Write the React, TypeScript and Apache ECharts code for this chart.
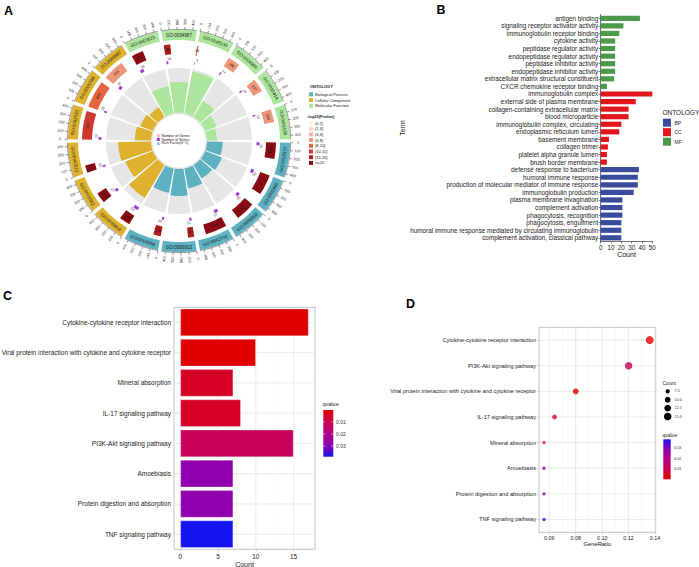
import React, { useEffect, useRef } from 'react';
import * as echarts from 'echarts';

const FONT = '"Liberation Sans", Arial, Helvetica, sans-serif';

// ---------------- Panel A (GO circle) ----------------
const goIds = ['GO:0003823', 'GO:0034987', 'GO:0045236', 'GO:0004866', 'GO:0030414', 'GO:0061135',
  'GO:0002377', 'GO:0002440', 'GO:0006959', 'GO:0042742', 'GO:0006910', 'GO:0006958',
  'GO:0019814', 'GO:0072562', 'GO:0042571', 'GO:0062023', 'GO:0005788', 'GO:0009897'];
const goOntology = ['MF', 'MF', 'MF', 'MF', 'MF', 'MF', 'BP', 'BP', 'BP', 'BP', 'BP', 'BP', 'CC', 'CC', 'CC', 'CC', 'CC', 'CC'];
const goGenes = [177, 98, 18, 186, 197, 194, 243, 303, 287, 320, 93, 110, 160, 158, 112, 425, 405, 315];
const goSelected = [38, 18, 6, 14, 14, 14, 32, 36, 36, 37, 21, 20, 50, 27, 20, 27, 18, 34];
const goPvalBin = [7, 6, 4, 3, 3, 3, 7, 7, 7, 7, 6, 6, 7, 7, 7, 5, 4, 3];
const goRichFactor = [0.62, 0.69, 0.95, 0.42, 0.27, 0.22, 0.35, 0.4, 0.35, 0.45, 0.6, 0.55, 0.85, 0.65, 0.73, 0.36, 0.3, 0.25];
const pvalBins = ['(0,2]', '(2,4]', '(4,6]', '(6,8]', '(8,10]', '(10,15]', '(15,20]', '>=20'];
const pvalColors = ['#FBEFEA', '#F8D9CC', '#F4B79D', '#EE9679', '#E4663F', '#CF3A2E', '#B01B1E', '#8A0B13'];
const ontologyNamesA = ['Biological Process', 'Cellular Component', 'Molecular Function'];
const ontologyKeysA = ['BP', 'CC', 'MF'];
const ontologyColorsA: Record<string, string> = { BP: '#5DB1C0', CC: '#DEB22E', MF: '#ABE69C' };
const geneTicks = [0, 100, 200, 300, 400];
const GENE_MAX = 450;
const SEL_MAX = 250;
const centerLegend = ['Number of Genes', 'Number of Select', 'Rich Factor(0~1)'];

// ---------------- Panel B ----------------
const termsMF = ['antigen binding', 'signaling receptor activator activity', 'immunoglobulin receptor binding',
  'cytokine activity', 'peptidase regulator activity', 'endopeptidase regulator activity',
  'peptidase inhibitor activity', 'endopeptidase inhibitor activity',
  'extracellular matrix structural constituent', 'CXCR chemokine receptor binding'];
const countsMF = [38, 22, 18, 14, 14, 14, 14, 14, 13, 6];
const termsCC = ['immunoglobulin complex', 'external side of plasma membrane', 'collagen-containing extracellular matrix',
  'blood microparticle', 'immunoglobulin complex, circulating', 'endoplasmic reticulum lumen',
  'basement membrane', 'collagen trimer', 'platelet alpha granule lumen', 'brush border membrane'];
const countsCC = [50, 34, 27, 27, 20, 18, 8, 7, 6, 6];
const termsBP = ['defense response to bacterium', 'humoral immune response',
  'production of molecular mediator of immune response', 'immunoglobulin production',
  'plasma membrane invagination', 'complement activation', 'phagocytosis, recognition',
  'phagocytosis, engulfment', 'humoral immune response mediated by circulating immunoglobulin',
  'complement activation, classical pathway'];
const countsBP = [37, 36, 36, 32, 21, 21, 21, 20, 20, 20];
const ontologyB = ['BP', 'CC', 'MF'];
const ontologyColorsB = ['#3B4B9B', '#E2161B', '#4D9A4B'];
const countTicksB = [0, 10, 20, 30, 40, 50];

// ---------------- Panel C ----------------
const termsC = ['Cytokine-cytokine receptor interaction', 'Viral protein interaction with cytokine and cytokine receptor',
  'Mineral absorption', 'IL-17 signaling pathway', 'PI3K-Akt signaling pathway', 'Amoebiasis',
  'Protein digestion and absorption', 'TNF signaling pathway'];
const countsC = [17, 10, 7, 8, 15, 7, 7, 7];
const qvalC = [0.0004, 0.0006, 0.005, 0.005, 0.012, 0.029, 0.029, 0.0387];
const ticksC = [0, 5, 10, 15];
const minorTicksC = [2.5, 7.5, 12.5, 17.5];

// ---------------- Panel D ----------------
const termsD = ['Cytokine-cytokine receptor interaction', 'PI3K-Akt signaling pathway',
  'Viral protein interaction with cytokine and cytokine receptor', 'IL-17 signaling pathway',
  'Mineral absorption', 'Amoebiasis', 'Protein digestion and absorption', 'TNF signaling pathway'];
const geneRatioD = [0.136, 0.12, 0.08, 0.064, 0.056, 0.056, 0.056, 0.056];
const countsD = [17, 15, 10, 8, 7, 7, 7, 7];
const qvalD = [0.0004, 0.012, 0.0006, 0.005, 0.005, 0.029, 0.029, 0.0387];
const ticksD = [0.06, 0.08, 0.10, 0.12, 0.14];
const minorTicksD = [0.07, 0.09, 0.11, 0.13];
const sizeLegendD = [7.5, 10.0, 12.5, 15.0];
const qTicks = [0.01, 0.02, 0.03];

const Q_MIN = 0.0004;
const Q_MAX = 0.0387;
const Q_COLORS = ['#E00000', '#CC004E', '#B40083', '#9000B0', '#1414F0'];

const sizeOf = (count: number) => 3.3 + 4.7 * Math.sqrt(Math.max(0, (count - 7) / 10));

function renderA(params: any, api: any) {
  const i = api.value(0);
  const genes = api.value(1);
  const sel = api.value(2);
  const rf = api.value(3);
  const bin = api.value(4);
  const cs = params.coordSys;
  const cx = cs.cx;
  const cy = cs.cy;
  const P = (r: number, a: number) => api.coord([r, a]);
  const arc = (r: number, s: number, e: number) => {
    const n = Math.max(2, Math.ceil(Math.abs(e - s) * 18));
    const pts: number[][] = [];
    for (let k = 0; k <= n; k++) pts.push(P(r, s + ((e - s) * k) / n));
    return pts;
  };
  const band = (r0: number, r1: number, s: number, e: number, fill: string) => ({
    type: 'polygon',
    shape: { points: [...arc(r1, s, e), ...arc(r0, e, s)] },
    style: { fill },
  });
  const tang = (txt: string, r: number, a: number, size: number, fill = '#222') => {
    const p = P(r, a);
    const th = Math.atan2(p[1] - cy, p[0] - cx);
    let rot = -(th + Math.PI / 2);
    if (Math.sin(th) > 0.01) rot += Math.PI;
    return {
      type: 'text', x: p[0], y: p[1], rotation: rot,
      style: { text: txt, fontSize: size, fontFamily: FONT, fill, align: 'center', verticalAlign: 'middle' },
    };
  };
  const radial = (txt: string, r: number, a: number, size: number) => {
    const p = P(r, a);
    const th = Math.atan2(p[1] - cy, p[0] - cx);
    let rot = -th;
    if (Math.cos(th) < -0.01) rot += Math.PI;
    return {
      type: 'text', x: p[0], y: p[1], rotation: rot,
      style: { text: txt, fontSize: size, fontFamily: FONT, fill: '#333', align: 'center', verticalAlign: 'middle' },
    };
  };
  const g = 0.045;
  const a0 = i + g;
  const a1 = i + 1 - g;
  const span = a1 - a0;
  const col = ontologyColorsA[goOntology[i]];
  const children: any[] = [];
  // inner track: background + rich factor
  children.push(band(26.5, 28, i, i + 1, '#E4E4E4'));
  children.push(band(28, 73, a0, a1, '#E6E6E6'));
  children.push(band(28, 28 + rf * 45, a0, a1, col));
  // number of genes
  const ge = a0 + (span * genes) / GENE_MAX;
  children.push(band(87, 97, a0, ge, pvalColors[bin]));
  children.push(tang(String(genes), 92, (a0 + ge) / 2, 3.8, '#1a1a1a'));
  // number of selected
  const se = a0 + (span * sel) / SEL_MAX;
  children.push(band(77.5, 80.5, a0, se, '#A23CD6'));
  children.push(tang(String(sel), 82.5, (a0 + se) / 2 + 0.08, 3.5, '#333'));
  // outer ring with GO id
  children.push(band(101, 111, a0, a1, col));
  children.push(tang(goIds[i], 106, (a0 + a1) / 2, 4.5, '#1a1a1a'));
  // axis arc + ticks
  children.push({ type: 'polyline', shape: { points: arc(111.6, a0, a1) }, style: { stroke: '#333', lineWidth: 0.5, fill: 'none' } });
  geneTicks.forEach((v) => {
    const a = a0 + (span * v) / GENE_MAX;
    const p1 = P(111.6, a);
    const p2 = P(114.4, a);
    children.push({ type: 'line', shape: { x1: p1[0], y1: p1[1], x2: p2[0], y2: p2[1] }, style: { stroke: '#333', lineWidth: 0.5 } });
    children.push(radial(String(v), 119, a, 3.7));
  });
  return { type: 'group', children };
}

function gridRender(params: any, api: any) {
  const cs = params.coordSys;
  const kind = api.value(2);
  if (kind === 2) {
    const y = api.coord([api.value(0), api.value(1)])[1];
    return { type: 'line', shape: { x1: cs.x, y1: y, x2: cs.x + cs.width, y2: y }, style: { stroke: '#E3E3E3', lineWidth: 0.7 } };
  }
  const x = api.coord([api.value(0), api.value(1)])[0];
  return {
    type: 'line',
    shape: { x1: x, y1: cs.y, x2: x, y2: cs.y + cs.height },
    style: { stroke: kind === 0 ? '#E3E3E3' : '#EFEFEF', lineWidth: kind === 0 ? 0.7 : 0.45 },
  };
}

function txt(text: string, x: number, y: number, size: number, extra: any = {}) {
  return {
    type: 'text', x, y, silent: true,
    style: {
      text, fontSize: size, fontFamily: FONT, fill: extra.fill || '#222', fontWeight: extra.weight || 'normal',
      align: extra.align || 'left', textAlign: extra.align || 'left',
      verticalAlign: extra.va || 'middle', textVerticalAlign: extra.va || 'middle',
    },
  };
}

function buildOption() {
  const termsB = [...termsMF, ...termsCC, ...termsBP];
  const groups: Record<string, { terms: string[]; counts: number[] }> = {
    BP: { terms: termsBP, counts: countsBP },
    CC: { terms: termsCC, counts: countsCC },
    MF: { terms: termsMF, counts: countsMF },
  };
  const seriesB = ontologyB.map((ont, k) => ({
    name: ont,
    type: 'bar',
    xAxisIndex: 0,
    yAxisIndex: 0,
    stack: 'b',
    barWidth: 5.2,
    itemStyle: { color: ontologyColorsB[k] },
    data: termsB.map((t) => {
      const idx = groups[ont].terms.indexOf(t);
      return idx >= 0 ? groups[ont].counts[idx] : '-';
    }),
  }));

  const gridDataC: any[] = [];
  ticksC.forEach((v) => gridDataC.push([v, 0, 0]));
  minorTicksC.forEach((v) => gridDataC.push([v, 0, 1]));
  termsC.forEach((_, k) => gridDataC.push([0, k, 2]));
  const gridDataD: any[] = [];
  ticksD.forEach((v) => gridDataD.push([v, 0, 0]));
  minorTicksD.forEach((v) => gridDataD.push([v, 0, 1]));
  termsD.forEach((_, k) => gridDataD.push([0.1, k, 2]));

  const gradStops = Q_COLORS.map((c, k) => ({ offset: k / (Q_COLORS.length - 1), color: c }));
  const els: any[] = [];
  // panel letters
  els.push(txt('A', 4, 4, 12.5, { weight: 'bold', va: 'top', fill: '#000' }));
  els.push(txt('B', 436.5, 3.5, 12.5, { weight: 'bold', va: 'top', fill: '#000' }));
  els.push(txt('C', 3, 289.5, 12.5, { weight: 'bold', va: 'top', fill: '#000' }));
  els.push(txt('D', 406, 297.5, 12.5, { weight: 'bold', va: 'top', fill: '#000' }));

  // Panel A right legend
  els.push(txt('ONTOLOGY', 310, 86.5, 4, { weight: 'bold' }));
  ontologyKeysA.forEach((k, j) => {
    const y = 94.3 + j * 5.8;
    els.push({ type: 'rect', shape: { x: 309, y: y - 2, width: 4, height: 4 }, style: { fill: ontologyColorsA[k] } });
    els.push(txt(ontologyNamesA[j], 315, y, 4));
  });
  els.push(txt('-log10(Pvalue)', 307, 116, 4, { weight: 'bold' }));
  pvalBins.forEach((b, j) => {
    const y = 123 + j * 5.7;
    els.push({ type: 'rect', shape: { x: 309, y: y - 2, width: 4, height: 4 }, style: { fill: pvalColors[j] } });
    els.push(txt(b, 315, y, 4));
  });
  // Panel A center legend
  const cIcons = ['#F4B8C8', '#A23CD6', '#5DB1C0'];
  centerLegend.forEach((l, j) => {
    const y = 135.7 + j * 3.8;
    if (j < 2) {
      els.push({ type: 'rect', shape: { x: 156.8, y: y - 1.5, width: 3, height: 3 }, style: { fill: cIcons[j] } });
    } else {
      els.push({ type: 'polygon', shape: { points: [[158.3, y - 1.6], [159.9, y + 1.4], [156.7, y + 1.4]] }, style: { fill: cIcons[j] } });
    }
    els.push(txt(l, 161.5, y, 3.6));
  });

  // Panel B legend
  els.push(txt('ONTOLOGY', 662.5, 112.7, 6.5));
  ontologyB.forEach((o, j) => {
    const y = 122.7 + j * 9.5;
    els.push({ type: 'rect', shape: { x: 663, y: y - 4, width: 8, height: 8 }, style: { fill: ontologyColorsB[j] } });
    els.push(txt(o, 674.5, y, 5));
  });

  // Panel C legend
  els.push(txt('qvalue', 322.5, 404, 5.5));
  els.push({ type: 'rect', shape: { x: 323.3, y: 410, width: 10, height: 46.7 }, style: { fill: new echarts.graphic.LinearGradient(0, 0, 0, 1, gradStops) } });
  qTicks.forEach((q) => {
    const y = 410 + ((q - Q_MIN) / (Q_MAX - Q_MIN)) * 46.7;
    els.push({ type: 'line', shape: { x1: 323.3, y1: y, x2: 325.3, y2: y }, style: { stroke: '#fff', lineWidth: 0.5 } });
    els.push({ type: 'line', shape: { x1: 331.3, y1: y, x2: 333.3, y2: y }, style: { stroke: '#fff', lineWidth: 0.5 } });
    els.push(txt(q.toFixed(2), 336, y, 5, { fill: '#333' }));
  });

  // Panel D legend
  els.push(txt('Count', 662.5, 382.7, 5));
  sizeLegendD.forEach((c, j) => {
    const y = 391.3 + j * 8.4;
    els.push({ type: 'circle', shape: { cx: 667.7, cy: y, r: sizeOf(c) / 2 }, style: { fill: '#000' } });
    els.push(txt(c.toFixed(1), 674.5, y, 3.8, { fill: '#333' }));
  });
  els.push(txt('qvalue', 662.5, 435, 5));
  els.push({ type: 'rect', shape: { x: 663.3, y: 439.3, width: 7.4, height: 40 }, style: { fill: new echarts.graphic.LinearGradient(0, 1, 0, 0, gradStops) } });
  qTicks.forEach((q) => {
    const y = 479.3 - ((q - Q_MIN) / (Q_MAX - Q_MIN)) * 40;
    els.push(txt(q.toFixed(2), 674, y, 3.8, { fill: '#333' }));
  });

  const catAxisCommon = (fs: number, margin: number) => ({
    type: 'category',
    inverse: true,
    axisLine: { show: false },
    axisTick: { show: true, alignWithLabel: true, length: 2, lineStyle: { color: '#B3B3B3', width: 0.6 } },
    axisLabel: { interval: 0, fontSize: fs, color: '#222', margin, fontFamily: FONT },
    splitLine: { show: false },
  });

  return {
    animation: false,
    backgroundColor: '#ffffff',
    textStyle: { fontFamily: FONT },
    polar: [{ center: [179, 141], radius: [0, 130] }],
    angleAxis: [{ polarIndex: 0, type: 'value', min: 0, max: 18, startAngle: 120, clockwise: true, show: false }],
    radiusAxis: [{ polarIndex: 0, type: 'value', min: 0, max: 130, show: false }],
    grid: [
      { left: 600.7, top: 14.5, width: 51.6, height: 227.1, containLabel: false, outerBoundsMode: 'none' },
      { left: 174, top: 307.3, width: 141, height: 242, show: true, borderColor: '#B3B3B3', borderWidth: 0.8, backgroundColor: 'transparent', containLabel: false, outerBoundsMode: 'none' },
      { left: 539, top: 327.3, width: 116.7, height: 205, show: true, borderColor: '#B3B3B3', borderWidth: 0.8, backgroundColor: 'transparent', containLabel: false, outerBoundsMode: 'none' },
    ],
    xAxis: [
      {
        gridIndex: 0, type: 'value', min: countTicksB[0], max: countTicksB[countTicksB.length - 1], interval: 10,
        axisLine: { show: true, lineStyle: { color: '#333', width: 0.7 } },
        axisTick: { show: true, length: 2, lineStyle: { color: '#333', width: 0.6 } },
        axisLabel: { fontSize: 6.3, color: '#222', margin: 2.5 },
        splitLine: { show: false },
        name: 'Count', nameLocation: 'middle', nameGap: 9, nameTextStyle: { fontSize: 7, color: '#111' },
      },
      {
        gridIndex: 1, type: 'value', min: -0.85, max: 17.85, splitNumber: 4,
        axisLine: { show: false },
        axisTick: { show: true, length: 2, customValues: ticksC, lineStyle: { color: '#B3B3B3', width: 0.6 } },
        axisLabel: {
          fontSize: 6.5, color: '#222', margin: 3.5, customValues: ticksC,
          formatter: (v: number) => (Math.abs(v - Math.round(v / 5) * 5) < 1e-6 ? String(Math.round(v)) : ''),
        },
        splitLine: { show: false },
        name: 'Count', nameLocation: 'middle', nameGap: 9, nameTextStyle: { fontSize: 7, color: '#111' },
      },
      {
        gridIndex: 2, type: 'value', min: 0.0522, max: 0.1405, splitNumber: 4,
        axisLine: { show: false },
        axisTick: { show: true, length: 2, customValues: ticksD, lineStyle: { color: '#B3B3B3', width: 0.6 } },
        axisLabel: {
          fontSize: 5.4, color: '#222', margin: 3, customValues: ticksD,
          formatter: (v: number) => (Math.abs(v * 50 - Math.round(v * 50)) < 1e-6 ? v.toFixed(2) : ''),
        },
        splitLine: { show: false },
        name: 'GeneRatio', nameLocation: 'middle', nameGap: 8.5, nameTextStyle: { fontSize: 5.8, color: '#111' },
      },
    ],
    yAxis: [
      {
        gridIndex: 0, type: 'category', inverse: true, data: termsB,
        axisLine: { show: true, lineStyle: { color: '#333', width: 0.7 } },
        axisTick: { show: true, alignWithLabel: true, length: 2, lineStyle: { color: '#333', width: 0.6 } },
        axisLabel: { interval: 0, fontSize: 6.35, color: '#222', margin: 2.5 },
        name: 'Term', nameLocation: 'middle', nameRotate: 90, nameGap: 192, nameTextStyle: { fontSize: 7, color: '#111' },
      },
      { gridIndex: 1, data: termsC, ...catAxisCommon(6.5, 3) },
      { gridIndex: 2, data: termsD, ...catAxisCommon(5.6, 3) },
    ],
    visualMap: [{
      type: 'continuous', show: false, seriesIndex: [5, 7], dimension: 2,
      min: Q_MIN, max: Q_MAX, inRange: { color: Q_COLORS },
    }],
    series: [
      {
        type: 'custom', coordinateSystem: 'polar', polarIndex: 0, silent: true,
        renderItem: renderA,
        data: goIds.map((_, i) => [i, goGenes[i], goSelected[i], goRichFactor[i], goPvalBin[i]]),
      },
      ...seriesB,
      {
        type: 'custom', xAxisIndex: 1, yAxisIndex: 1, silent: true, z: 1,
        renderItem: gridRender, encode: { x: 0, y: 1 }, data: gridDataC,
      },
      {
        type: 'bar', xAxisIndex: 1, yAxisIndex: 1, z: 3, barWidth: '90%',
        encode: { x: 0, y: 1 },
        itemStyle: { borderColor: 'rgba(255,255,255,0.45)', borderWidth: 0.6 },
        data: termsC.map((t, k) => [countsC[k], t, qvalC[k]]),
      },
      {
        type: 'custom', xAxisIndex: 2, yAxisIndex: 2, silent: true, z: 1,
        renderItem: gridRender, encode: { x: 0, y: 1 }, data: gridDataD,
      },
      {
        type: 'scatter', xAxisIndex: 2, yAxisIndex: 2, z: 3,
        encode: { x: 0, y: 1 },
        symbolSize: (val: any) => sizeOf(val[3]),
        data: termsD.map((t, k) => [geneRatioD[k], t, qvalD[k], countsD[k]]),
      },
    ],
    graphic: { elements: els },
  };
}

export default function App() {
  const ref = useRef<HTMLDivElement>(null);
  useEffect(() => {
    if (!ref.current) return;
    const chart = echarts.init(ref.current, null, { renderer: 'svg', width: 699, height: 567 });
    chart.setOption(buildOption() as any);
    return () => chart.dispose();
  }, []);
  return (
    <div
      ref={ref}
      style={{ position: 'fixed', left: 0, top: 0, width: 699, height: 567, background: '#fff' }}
    />
  );
}
